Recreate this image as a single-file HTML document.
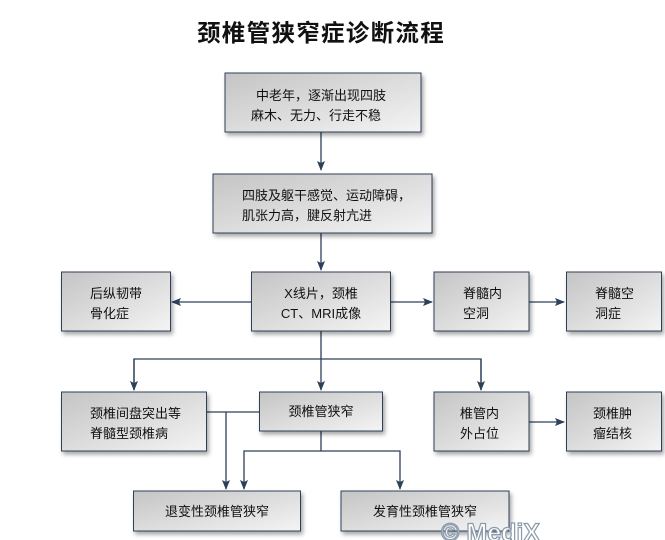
<!DOCTYPE html>
<html><head><meta charset="utf-8"><style>
html,body{margin:0;padding:0;background:#fff;}
svg{display:block;}
text{font-family:"Liberation Sans","Noto Sans CJK SC",sans-serif;font-size:13px;fill:#111;}
</style></head><body>
<svg width="665" height="540" viewBox="0 0 665 540" xmlns="http://www.w3.org/2000/svg">
<defs>
<linearGradient id="g" x1="0" y1="0" x2="1" y2="1">
<stop offset="0" stop-color="#c4c4c4"/><stop offset="1" stop-color="#f4f4f4"/>
</linearGradient>
<filter id="s" x="-10%" y="-10%" width="130%" height="140%">
<feDropShadow dx="2" dy="3" stdDeviation="2" flood-color="#000" flood-opacity="0.35"/>
</filter>
<marker id="a" markerWidth="10" markerHeight="10" refX="9" refY="5" orient="auto" markerUnits="userSpaceOnUse">
<path d="M0,1 L10,5 L0,9 L2,5 Z" fill="#2d4059"/>
</marker>
</defs>
<text x="321" y="41" text-anchor="middle" style="font-size:23.5px;font-weight:bold;letter-spacing:1.3px">颈椎管狭窄症诊断流程</text>
<g fill="none" stroke="#2d4059" stroke-width="1.3">
<path d="M321 132 V170" marker-end="url(#a)"/>
<path d="M321 233 V270" marker-end="url(#a)"/>
<path d="M251 302 H172" marker-end="url(#a)"/>
<path d="M391 302 H432" marker-end="url(#a)"/>
<path d="M529 302 H564" marker-end="url(#a)"/>
<path d="M321 331 V390" marker-end="url(#a)"/>
<path d="M134 390 V359 H481 V390" />
<path d="M134 359 V390" marker-end="url(#a)"/>
<path d="M481 359 V390" marker-end="url(#a)"/>
<path d="M206 412 H259"/>
<path d="M226 412 V489" marker-end="url(#a)"/>
<path d="M321 431 V451 H244 V489" marker-end="url(#a)"/>
<path d="M321 451 H400 V489" marker-end="url(#a)"/>
<path d="M529 422 H564" marker-end="url(#a)"/>
</g>
<g fill="url(#g)" stroke="#2d4059" stroke-width="1" filter="url(#s)">
<rect x="225" y="73" width="196" height="59"/>
<rect x="213" y="174" width="219" height="59"/>
<rect x="61.5" y="272" width="109" height="59"/>
<rect x="251.5" y="272" width="139" height="59"/>
<rect x="434" y="272" width="95" height="59"/>
<rect x="566.5" y="272" width="95" height="59"/>
<rect x="61.5" y="392" width="145" height="59"/>
<rect x="259.5" y="392" width="123" height="39"/>
<rect x="434" y="392" width="95" height="59"/>
<rect x="566.5" y="392" width="95" height="59"/>
<rect x="133.5" y="491" width="167" height="40"/>
<rect x="341" y="491" width="168" height="40"/>
</g>
<text x="256" y="100">中老年，逐渐出现四肢</text>
<text x="251" y="120">麻木、无力、行走不稳</text>
<text x="242" y="200">四肢及躯干感觉、运动障碍，</text>
<text x="242" y="220">肌张力高，腱反射亢进</text>
<text x="90" y="298">后纵韧带</text>
<text x="90" y="318">骨化症</text>
<text x="321" y="298" text-anchor="middle">X线片，颈椎</text>
<text x="321" y="318" text-anchor="middle">CT、MRI成像</text>
<text x="463" y="298">脊髓内</text>
<text x="463" y="318">空洞</text>
<text x="595" y="298">脊髓空</text>
<text x="595" y="318">洞症</text>
<text x="90" y="418">颈椎间盘突出等</text>
<text x="90" y="438">脊髓型颈椎病</text>
<text x="321" y="416" text-anchor="middle">颈椎管狭窄</text>
<text x="460" y="418">椎管内</text>
<text x="460" y="438">外占位</text>
<text x="593" y="418">颈椎肿</text>
<text x="593" y="438">瘤结核</text>
<text x="217" y="516" text-anchor="middle">退变性颈椎管狭窄</text>
<text x="425" y="516" text-anchor="middle">发育性颈椎管狭窄</text>
<text x="441" y="541" style="font-size:25px;font-weight:bold;fill:#fff;stroke:#8a9aaa;stroke-width:1.2">© MediX</text>
</svg>
</body></html>
